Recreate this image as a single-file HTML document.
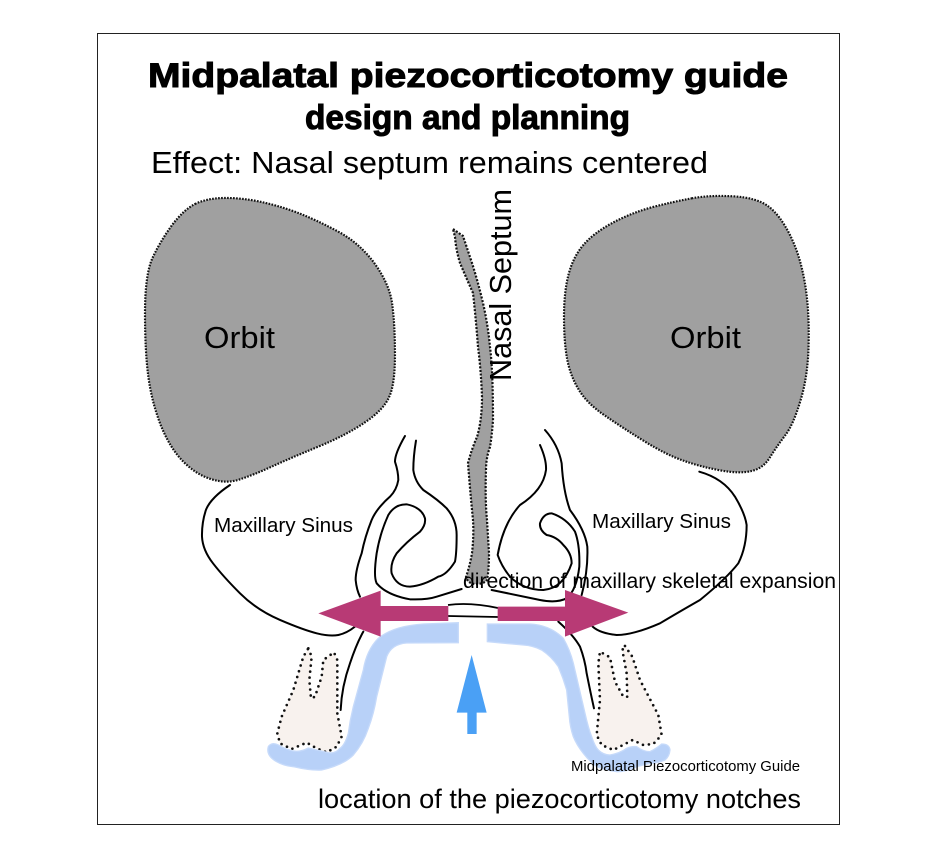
<!DOCTYPE html>
<html lang="en">
<head>
<meta charset="utf-8">
<title>Midpalatal piezocorticotomy guide</title>
<style>
html,body{margin:0;padding:0;background:#fff;width:938px;height:853px;overflow:hidden}
svg{display:block}
text{font-family:"Liberation Sans",sans-serif;fill:#000}
.ln{fill:none;stroke:#000;stroke-width:6;stroke-linecap:round;stroke-linejoin:round}
.orb{fill:#a0a0a0;stroke:#111;stroke-width:6.5;stroke-dasharray:5 4}
.tooth{fill:#f8f2ee;stroke:#111;stroke-width:8;stroke-dasharray:0 18;stroke-linecap:round;stroke-linejoin:round}
.guide{fill:#b8d1f8;stroke:#c6dafa;stroke-width:4}
</style>
</head>
<body>
<svg width="938" height="853" viewBox="0 0 938 853" xmlns="http://www.w3.org/2000/svg">
<rect x="0" y="0" width="938" height="853" fill="#fff"/>
<rect x="97.5" y="33.5" width="742" height="791" fill="#fff" stroke="#222" stroke-width="1"/>

<g transform="translate(130,185) scale(.3333)">
<path class="orb" d="M195 57Q230 40 280 39Q330 38 385 49Q440 60 500 82Q560 105 625 140Q690 175 735 237Q780 300 787 360Q795 420 795 510Q795 600 777 637Q760 675 705 712Q650 750 565 785Q480 820 425 845Q370 870 330 883Q290 897 245 883Q200 870 160 830Q120 790 92 720Q65 650 55 575Q45 500 45 385Q45 270 67 220Q90 170 125 122Q160 75 195 57Z"/>
</g>
<g transform="translate(550,185) scale(.3333)">
<path class="orb" d="M425 40Q480 30 550 34Q620 38 655 64Q690 90 720 150Q750 210 764 290Q778 370 776 470Q775 570 752 645Q730 720 705 752Q680 785 660 817Q640 850 605 858Q570 867 510 856Q450 845 400 827Q350 810 285 770Q220 730 165 692Q110 655 85 612Q60 570 51 520Q42 470 42 395Q42 320 56 267Q70 215 100 180Q130 145 185 115Q240 85 305 67Q370 50 425 40Z"/>
</g>

<g transform="translate(190,420) scale(.3333)">
<path class="ln" d="M120 195Q60 235 47 272Q35 310 36 350Q38 390 69 430Q100 470 150 520Q200 570 270 600Q340 630 380 640Q420 650 445 645Q470 640 495 620"/>
<path class="ln" d="M645 48Q615 100 615 125Q625 155 625 180Q620 210 600 230Q560 265 545 300Q525 350 515 400Q497 450 497 480Q500 510 510 530"/>
<path class="ln" d="M678 62Q670 110 670 150Q675 185 700 210Q745 240 770 265Q800 300 800 345Q800 400 795 425Q770 465 745 470Q700 497 660 500Q620 500 605 460Q600 430 620 400Q650 365 690 335Q708 315 705 295Q695 262 650 253Q615 252 595 285Q570 340 560 400Q550 470 560 490Q590 525 660 538Q710 540 740 530L815 507"/>
</g>
<g transform="translate(460,420) scale(.3333)">
<path class="ln" d="M718 155Q790 175 825 230Q855 280 860 315Q860 380 835 430Q800 475 720 540Q650 580 600 610Q520 645 470 645Q420 640 398 620"/>
<path class="ln" d="M255 30Q295 75 305 130Q310 215 330 270Q375 330 382 380Q385 450 365 525"/>
<path class="ln" d="M240 75Q260 120 258 150Q250 210 180 255Q130 310 113 405Q125 440 150 470Q190 510 250 510Q310 505 335 430Q335 400 310 375Q290 350 260 345Q238 330 240 310Q250 280 275 280Q320 295 345 335Q360 375 358 440Q350 510 320 535Q290 550 240 540L95 510"/>
</g>
<path d="M448 605Q470 602 498 608M448 616L498 617" fill="none" stroke="#000" stroke-width="1.8"/>

<path d="M453 229L463 236Q466 245 472 263Q478 282 483 303Q488 325 490 347Q493 370 493 420Q492 435 490 447Q486 458 486 470Q485 500 487 520L489 553Q489 570 487 580Q484 584 476 584Q468 584 466 577Q470 565 472 553Q474 535 473 520Q470 490 468 463Q472 448 477 437Q482 420 482 397Q481 370 478 347Q476 320 473 293Q465 275 460 263Q456 250 455 237Z" fill="#a0a0a0" stroke="#111" stroke-width="2.2" stroke-dasharray="2 1.6"/>

<g transform="translate(250,600) scale(.3333)">
<path class="ln" d="M340 95Q320 130 300 190Q275 260 272 330"/>
<path class="tooth" d="M175 145L185 170L178 240L183 295L195 290L215 230L220 180L252 157L262 180L262 340L275 410L260 440L230 457L200 445L170 428L125 447L90 430L82 400L95 350L130 270L160 170Z"/>
<path class="guide" d="M625 68L520 72Q430 78 385 115Q350 150 340 210L310 320Q300 360 295 400Q285 435 270 445Q255 462 235 458Q200 450 175 444Q150 458 125 452Q100 445 85 435Q65 425 55 440Q48 465 75 482Q100 498 130 500Q180 512 215 510Q280 495 310 465Q340 430 355 385Q372 340 380 290L410 170Q425 132 470 129L625 128Z"/>
<path d="M665 165L710 338L680 338L680 402L652 402L652 338L620 338Z" fill="#4aa0f5"/>
</g>
<g transform="translate(470,600) scale(.3333)">
<path class="ln" d="M265 65Q310 105 330 140Q345 180 350 220Q362 280 372 325"/>
<path class="tooth" d="M465 138L487 170L510 240L565 345L575 405L550 432L520 435L488 420L430 450L395 435L380 405L390 300L385 190L390 155L420 172L435 245L460 290L472 290L470 220L457 150Z"/>
<path class="guide" d="M52 72L180 72Q240 75 280 115Q300 150 310 190L345 340Q355 385 365 410Q375 440 385 450Q400 465 420 465Q450 460 470 445Q485 438 500 440Q520 455 540 455Q560 445 575 432Q598 432 600 450Q598 470 585 480Q560 490 540 490Q520 495 500 500Q470 515 440 515Q405 510 380 500Q355 480 340 460Q320 435 310 410Q300 380 298 350L290 270Q280 235 265 200Q245 170 215 150Q190 137 160 135L52 125Z"/>
</g>

<g transform="translate(190,420) scale(.3333)">
<path d="M385 580L572 512L572 558L775 558L775 603L572 603L572 650Z" fill="#b83a75"/>
</g>
<g transform="translate(460,420) scale(.3333)">
<path d="M113 560L315 560L315 510L505 578L315 650L315 603L113 603Z" fill="#b83a75"/>
</g>

<text x="148" y="87" font-size="34" font-weight="700" stroke="#000" stroke-width="1" textLength="640" lengthAdjust="spacingAndGlyphs">Midpalatal piezocorticotomy guide</text>
<text x="305" y="129" font-size="34" font-weight="700" stroke="#000" stroke-width="1" textLength="325" lengthAdjust="spacingAndGlyphs">design and planning</text>
<text x="151" y="173" font-size="31" textLength="557" lengthAdjust="spacingAndGlyphs">Effect: Nasal septum remains centered</text>
<text x="204" y="348" font-size="31" textLength="71" lengthAdjust="spacingAndGlyphs">Orbit</text>
<text x="670" y="348" font-size="31" textLength="71" lengthAdjust="spacingAndGlyphs">Orbit</text>
<text transform="translate(511,381) rotate(-90)" font-size="31" textLength="192" lengthAdjust="spacingAndGlyphs">Nasal Septum</text>
<text x="214" y="532" font-size="20" textLength="139" lengthAdjust="spacingAndGlyphs">Maxillary Sinus</text>
<text x="592" y="528" font-size="20" textLength="139" lengthAdjust="spacingAndGlyphs">Maxillary Sinus</text>
<text x="463" y="588" font-size="21.5" textLength="373" lengthAdjust="spacingAndGlyphs">direction of maxillary skeletal expansion</text>
<text x="571" y="771" font-size="14.5" textLength="229" lengthAdjust="spacingAndGlyphs">Midpalatal Piezocorticotomy Guide</text>
<text x="318" y="808" font-size="27" textLength="483" lengthAdjust="spacingAndGlyphs">location of the piezocorticotomy notches</text>
</svg>
</body>
</html>
